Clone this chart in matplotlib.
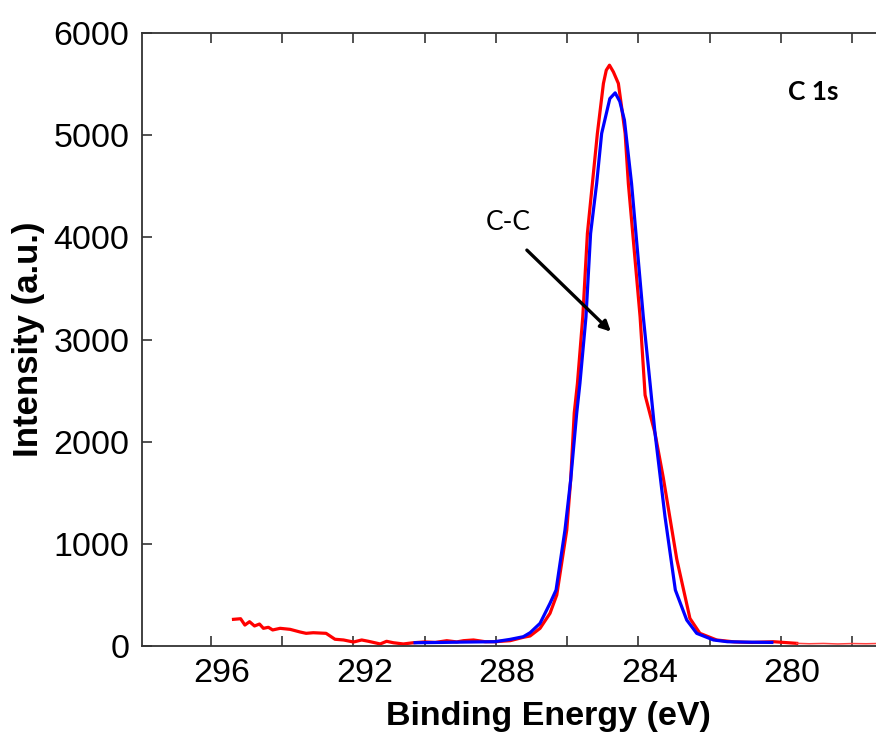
import matplotlib
matplotlib.use("Agg")
import matplotlib.pyplot as plt
from matplotlib.transforms import ScaledTranslation

# ---- data ----
red_x = [295.37, 295.17, 295.05, 294.92, 294.78, 294.64, 294.53, 294.39, 294.27, 294.06,
         293.78, 293.50, 293.33, 293.13, 292.77, 292.52, 292.28, 292.00, 291.77, 291.58,
         291.25, 291.07, 290.88, 290.60, 290.32, 290.00, 289.70, 289.38, 289.10, 288.91,
         288.63, 288.30, 288.03, 287.60, 287.23, 287.04, 286.76, 286.48, 286.29, 286.01,
         285.90, 285.80, 285.71, 285.56, 285.43, 285.29, 285.15, 284.98, 284.90, 284.81,
         284.70, 284.56, 284.47, 284.37, 284.28, 283.95, 283.83, 283.81, 283.53, 283.30,
         282.92, 282.55, 282.27, 281.80, 281.30, 280.80, 280.20, 279.55]
red_y = [261, 267, 205, 238, 196, 215, 173, 183, 157, 173,
         163, 137, 124, 130, 124, 66, 59, 39, 59, 46,
         20, 46, 32, 20, 32, 40, 35, 52, 40, 52,
         59, 42, 42, 52, 85, 98, 173, 320, 500, 1135,
         1624, 2280, 2570, 3222, 4038, 4527, 5016, 5506, 5636, 5685,
         5619, 5506, 5277, 5016, 4527, 3222, 2570, 2456, 2081, 1650,
         850, 270, 124, 59, 40, 35, 42, 26]

red_tail_x = [279.55, 279.20, 278.80, 278.40, 278.00, 277.60, 277.20, 276.70]
red_tail_y = [26, 22, 25, 20, 24, 22, 25, 23]

blue_x = [290.27, 289.50, 289.00, 288.50, 288.03, 287.60, 287.23, 287.04, 286.76, 286.48,
          286.31, 286.06, 285.90, 285.73, 285.64, 285.47, 285.34, 285.17, 285.03, 284.80,
          284.65, 284.52, 284.39, 284.19, 283.86, 283.67, 283.53, 283.25, 282.96, 282.64,
          282.36, 281.89, 281.50, 281.00, 280.50, 280.25]
blue_y = [32, 35, 38, 40, 42, 65, 91, 130, 222, 418,
          548, 1135, 1624, 2280, 2570, 3222, 4038, 4527, 5016, 5358,
          5414, 5330, 5147, 4527, 3222, 2570, 2081, 1265, 548, 254,
          124, 59, 42, 38, 36, 35]

x_major = [296, 292, 288, 284, 280]
x_minor = [294, 290, 286, 282, 278]
y_ticks = [0, 1000, 2000, 3000, 4000, 5000, 6000]

W, H = 876, 734
fig = plt.figure(figsize=(W / 100, H / 100), dpi=100)
ax = fig.add_axes([142 / W, (H - 646) / H, (900 - 142) / W, (646 - 33) / H])

ax.plot(red_x, red_y, color="#ff0000", lw=2.3, solid_joinstyle="round", zorder=2)
ax.plot(red_tail_x, red_tail_y, color="#ff4040", lw=1.1, zorder=2)
ax.plot(blue_x, blue_y, color="#0000ff", lw=2.3, solid_joinstyle="round", zorder=3)

ax.set_xlim(297.94, 276.65)
ax.set_ylim(0, 6000)

font = "Liberation Sans"
ax.set_xticks(x_major)
ax.set_xticks(x_minor, minor=True)
ax.set_xticklabels([str(v) for v in x_major], fontsize=24.5, family=font)
ax.set_yticks(y_ticks)
ax.set_yticklabels([str(v) for v in y_ticks], fontsize=24.5, family=font)

ax.tick_params(axis="x", which="both", direction="in", top=True, bottom=True,
               length=7, width=1.2, color="#333333", pad=9)
ax.tick_params(axis="y", which="both", direction="in", left=True, right=False,
               length=7, width=1.2, color="#333333", pad=9)
ax.tick_params(axis="x", which="minor", labelbottom=False)

for lab in ax.get_xticklabels():
    lab.set_transform(lab.get_transform() + ScaledTranslation(0.11, 0, fig.dpi_scale_trans))

for side in ["left", "top", "bottom"]:
    ax.spines[side].set_color("#333333")
    ax.spines[side].set_linewidth(1.3)
ax.spines["right"].set_visible(False)

ax.set_xlabel("Binding Energy (eV)", fontsize=24.5, fontweight="bold", family=font, labelpad=8)
ax.xaxis.label.set_x((548 - 142) / (900 - 142))
ax.set_ylabel("Intensity (a.u.)", fontsize=25, fontweight="bold", family=font, labelpad=6)

ax.text(279.09, 5421, "C 1s", fontsize=19, fontweight="bold", family="Lato",
        ha="center", va="center")
ax.text(287.66, 4149, "C-C", fontsize=19, family="Lato", ha="center", va="center")
ax.annotate("", xy=(284.77, 3077), xytext=(287.13, 3875),
            arrowprops=dict(arrowstyle="-|>,head_length=0.6,head_width=0.3",
                            color="black", lw=2.4, shrinkA=0, shrinkB=0))

fig.savefig("out.png", dpi=100)
